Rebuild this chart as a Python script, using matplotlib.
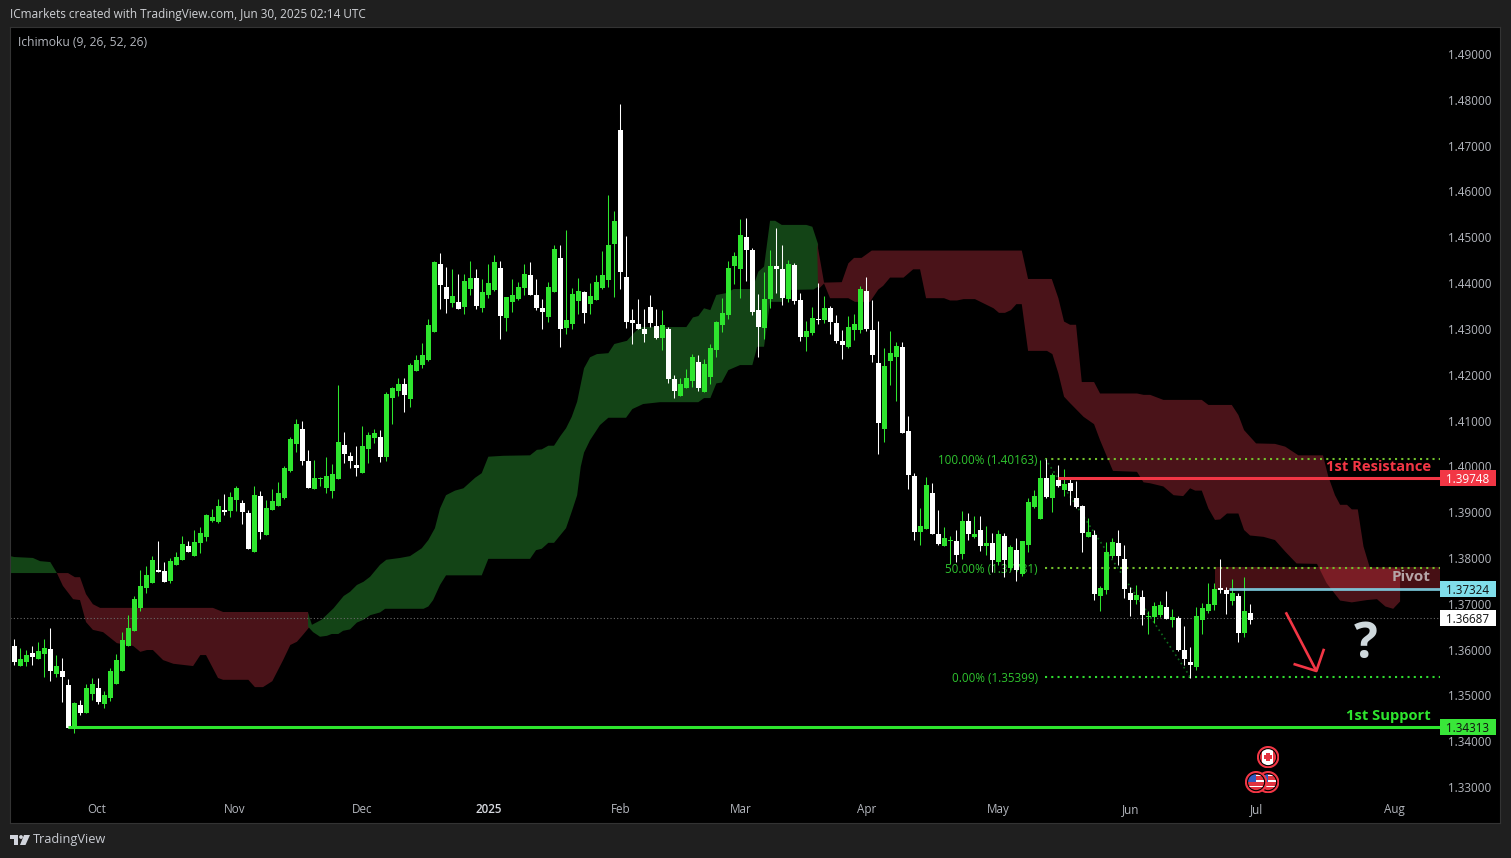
import numpy as np
import matplotlib
matplotlib.use('Agg')
import matplotlib.pyplot as plt
from matplotlib.patches import Rectangle, Circle, Polygon
from matplotlib.transforms import IdentityTransform

plt.rcParams['font.family'] = ['Open Sans', 'DejaVu Sans']

# prices are kept as points above 1.0 (3623 = 1.3623), one value per daily bar
highs = [3623,3603,3599,3607,3616,3623,3647,3588,3581,3535,
         3485,3489,3524,3538,3538,3509,3559,3590,3638,3675,
         3717,3773,3782,3804,3837,3791,3799,3813,3848,3837,
         3861,3867,3896,3907,3928,3939,3944,3957,3926,3904,
         3957,3946,3926,3950,3966,4001,4064,4103,4100,4035,
         4013,3977,4020,4004,4177,4076,4031,4044,4087,4074,
         4081,4079,4162,4173,4192,4192,4225,4242,4269,4321,
         4448,4465,4435,4430,4419,4419,4448,4430,4408,4441,
         4461,4448,4369,4408,4402,4441,4446,4408,4365,4402,
         4483,4483,4515,4389,4411,4382,4400,4417,4470,4592,
         4557,4791,4503,4343,4365,4343,4374,4343,4341,4304,
         4199,4193,4213,4245,4243,4234,4267,4317,4368,4449,
         4468,4540,4542,4477,4376,4425,4473,4521,4483,4451,
         4444,4379,4317,4348,4400,4372,4350,4331,4298,4328,
         4333,4394,4414,4363,4317,4258,4296,4272,4272,4110,
         3986,3909,3977,3964,3905,3868,3848,3861,3903,3898,
         3892,3892,3870,3855,3861,3855,3828,3844,3837,3931,
         3948,4014,4016,3986,4003,3994,3972,3968,3916,3887,
         3861,3739,3835,3844,3861,3828,3737,3741,3730,3684,
         3704,3706,3728,3689,3673,3651,3605,3693,3702,3745,
         3745,3798,3737,3754,3723,3758,3699]
body_tops = [3607,3579,3588,3592,3596,3603,3601,3564,3553,3522,
             3483,3479,3516,3524,3516,3500,3553,3577,3620,3647,
             3710,3738,3762,3795,3773,3771,3793,3802,3830,3826,
             3835,3854,3894,3889,3913,3904,3933,3952,3920,3898,
             3937,3935,3909,3924,3942,3996,4060,4092,4081,4011,
             3974,3975,3978,3983,4052,4046,4022,4002,4044,4068,
             4072,4063,4157,4170,4179,4179,4221,4232,4242,4308,
             4446,4441,4391,4371,4358,4404,4411,4411,4380,4400,
             4446,4432,4369,4374,4391,4419,4417,4374,4345,4391,
             4474,4454,4319,4376,4382,4380,4371,4402,4418,4483,
             4536,4734,4413,4319,4311,4300,4348,4306,4309,4300,
             4191,4180,4193,4239,4228,4223,4258,4315,4335,4433,
             4459,4505,4501,4473,4342,4366,4438,4438,4431,4442,
             4440,4363,4296,4324,4322,4346,4346,4313,4274,4304,
             4311,4387,4383,4298,4226,4219,4248,4263,4261,4077,
             3979,3870,3959,3942,3852,3844,3839,3837,3881,3881,
             3852,3861,3833,3833,3852,3848,3824,3817,3837,3922,
             3935,3975,3975,3981,3970,3962,3964,3931,3913,3857,
             3850,3734,3813,3835,3833,3798,3723,3719,3715,3673,
             3695,3697,3693,3671,3669,3599,3573,3673,3691,3699,
             3732,3734,3730,3723,3717,3684,3680]
body_bottoms = [3572,3564,3572,3583,3579,3590,3553,3546,3540,3428,
                3428,3461,3461,3503,3485,3481,3494,3524,3553,3607,
                3640,3690,3734,3745,3770,3747,3749,3784,3795,3813,
                3804,3832,3845,3880,3878,3900,3902,3926,3900,3819,
                3813,3856,3850,3904,3913,3931,3990,4049,4011,3952,
                3950,3973,3953,3946,3972,4026,4011,3996,3985,4037,
                4061,4020,4020,4149,4164,4155,4146,4208,4221,4232,
                4293,4395,4365,4356,4343,4347,4387,4349,4345,4374,
                4384,4328,4323,4358,4365,4389,4374,4345,4336,4325,
                4380,4299,4301,4310,4360,4334,4354,4363,4389,4407,
                4485,4424,4315,4313,4300,4289,4313,4280,4280,4191,
                4164,4154,4171,4186,4171,4162,4195,4254,4309,4331,
                4438,4431,4473,4337,4304,4302,4366,4431,4368,4366,
                4361,4283,4283,4291,4320,4320,4315,4274,4265,4261,
                4298,4298,4300,4243,4095,4082,4230,4239,4073,3981,
                3857,3857,3863,3852,3830,3826,3837,3806,3809,3852,
                3846,3826,3826,3796,3791,3796,3778,3774,3765,3828,
                3911,3885,3933,3931,3957,3948,3946,3911,3855,3846,
                3721,3717,3730,3804,3804,3732,3708,3708,3675,3671,
                3671,3675,3667,3665,3599,3579,3566,3562,3665,3684,
                3697,3731,3721,3706,3636,3636,3665]
lows = [3566,3564,3564,3566,3579,3540,3531,3540,3485,3428,
        3417,3457,3461,3489,3481,3472,3487,3524,3553,3607,
        3640,3684,3723,3745,3769,3747,3745,3784,3795,3813,
        3804,3811,3837,3878,3876,3894,3889,3902,3874,3819,
        3813,3841,3850,3904,3913,3928,3987,4031,4002,3952,
        3950,3958,3942,3931,3972,4007,3996,3978,3985,4007,
        4050,4009,4011,4092,4153,4118,4129,4208,4214,4229,
        4293,4343,4334,4347,4343,4332,4374,4343,4336,4367,
        4382,4277,4295,4336,4363,4374,4374,4341,4299,4315,
        4380,4260,4288,4299,4332,4312,4332,4363,4387,4391,
        4370,4387,4302,4267,4300,4272,4304,4278,4254,4182,
        4149,4154,4171,4173,4164,4162,4180,4239,4293,4322,
        4398,4368,4405,4331,4239,4278,4346,4379,4352,4359,
        4355,4274,4252,4287,4311,4313,4289,4269,4234,4259,
        4276,4291,4296,4228,4027,4053,4178,4143,4073,3951,
        3839,3828,3863,3852,3828,3826,3787,3791,3798,3839,
        3844,3815,3806,3769,3785,3758,3774,3750,3761,3813,
        3909,3885,3931,3900,3955,3935,3916,3909,3813,3846,
        3708,3684,3721,3800,3785,3713,3673,3699,3654,3634,
        3658,3671,3667,3649,3597,3566,3538,3555,3634,3680,
        3686,3723,3678,3697,3616,3627,3656]
# G = green candle, W = white candle
candle_kind = ('WGGWGGWGWW' 'GWGGWGGGGG' 'GGGGWWGGGW' 'GGGGGWGGWW' 'GWGGGGGGWW'
               'GGGGGWWWGG' 'GWGGGWGGGG' 'GWWGWGGWGG' 'GWGGGGWWWG' 'GWGGGWGGGG'
               'GWWWWWWWGW' 'WGGGWGGGGG' 'GGWWWGGWWG' 'WWGGWGWWWG' 'GGWWWGGGWW'
               'WGGWWGGWGW' 'GWGWGWGWGG' 'GGWGWGWWWG' 'WGGGWWWGWG' 'GGWGWWWGGG'
               'GWWGWGW')

# ichimoku cloud edges as (bar, price points)
green1_top = [(-0.7,3804),(0,3802),(3.1,3800),(4.3,3793),(6,3791),(7.1,3767)]
green1_bottom = [(-0.7,3767),(7.1,3767)]
red1_top = [(7.1,3767),(8.95,3767),(10.1,3758),(10.95,3758),(11.95,3721),(13.1,3699),(14.3,3691),
            (33.1,3691),(34.8,3682),(48.95,3682),(49.3,3651)]
red1_bottom = [(7.1,3767),(8.1,3739),(9.8,3710),(10.95,3708),(11.95,3660),(13.1,3643),(14.8,3638),
               (17.1,3614),(19.8,3608),(21,3595),(22.1,3599),(23.1,3599),(24.8,3577),(26.5,3569),
               (29.8,3564),(31,3588),(31.95,3588),(33.95,3538),(34.8,3534),(39,3534),(40.1,3518),
               (41.45,3518),(43,3531),(44.8,3577),(46,3610),(47.1,3617),(48.1,3632),(49.3,3651)]
green2_top = [(48.95,3680),(49.6,3654),(51.2,3665),(53.2,3690),(54.9,3717),(55.95,3726),(57.1,3741),
              (58.2,3748),(59.3,3759),(60.95,3785),(62,3796),(64.3,3800),(65.95,3804),(67.9,3821),
              (69,3839),(70.1,3865),(70.95,3908),(71.95,3937),(73.45,3947),(74.85,3952),(76.8,3975),
              (77.9,3985),(79,4021),(81.5,4023),(85.95,4024),(87.1,4036),(87.9,4037),(89,4045),
              (89.95,4045),(91,4066),(91.95,4083),(92.9,4108),(93.8,4141),(94.95,4214),(95.95,4238),
              (97.1,4245),(99,4247),(100,4267),(102.1,4274),(103.2,4290),(104.3,4304),(112,4304),
              (113.1,4325),(114,4328),(114.95,4345),(116,4341),(117,4374),(118.6,4378),(119.9,4387),
              (123,4387),(124,4425),(124.95,4436),(125.95,4536),(126.8,4536),(127.9,4527),(132,4527),
              (133,4523),(133.95,4485)]
green2_bottom = [(48.95,3650),(49.8,3638),(50.95,3628),(52.1,3630),(52.9,3634),(54,3634),(54.8,3641),
                 (55.95,3644),(57.1,3659),(58.2,3665),(59.3,3675),(60.95,3681),(61.8,3689),(68.2,3689),
                 (69,3694),(69.8,3708),(70.95,3741),(71.95,3762),(77.9,3762),(79,3798),(85.95,3798),
                 (86.95,3817),(87.9,3820),(89,3833),(89.95,3833),(91.95,3865),(92.9,3901),(93.8,3937),
                 (94.4,3999),(94.95,4030),(95.95,4057),(97.6,4090),(99,4106),(101.95,4106),(103,4125),
                 (104.8,4136),(107.6,4140),(114,4140),(114.95,4149),(116,4149),(117,4181),(117.9,4183),
                 (119,4210),(120.95,4221),(123,4221),(123.8,4261),(124.95,4261),(125.95,4359),
                 (127.9,4359),(129,4385),(133.2,4386),(133.95,4392)]
red2_top = [(133.8,4487),(134.95,4401),(137.9,4402),(139,4443),(139.95,4455),(141.2,4455),(142.9,4471),
            (167.9,4471),(168.95,4409),(172.9,4409),(174,4367),(174.95,4316),(175.95,4309),(176.95,4309),
            (177.9,4184),(179.95,4184),(180.95,4159),(187.1,4159),(188.2,4156),(189.3,4156),(191.5,4145),
            (197.9,4145),(199,4134),(202.9,4134),(204,4112),(204.95,4079),(206.95,4050),(210.1,4049),
            (211.8,4043),(214,4024),(218.1,4024),(219,3977),(220.1,3937),(220.95,3916),(222.1,3916),
            (222.9,3906),(223.9,3906),(224.85,3825),(225.95,3777),(230.95,3777)]
red2_bottom = [(133.95,4386),(134.95,4399),(135.95,4367),(139,4367),(140.1,4359),(142.6,4359),(144,4386),
               (144.8,4394),(145.95,4412),(148.2,4412),(149.8,4430),(150.95,4430),(151.95,4367),
               (154.95,4367),(155.95,4362),(157.1,4362),(158.2,4365),(160.1,4365),(163.2,4345),
               (164.1,4335),(165.1,4335),(166.1,4341),(167,4354),(167.9,4354),(168.95,4252),(172.1,4252),
               (173,4245),(174,4203),(174.95,4152),(175.95,4138),(178.2,4108),(179.95,4092),(180.95,4057),
               (182.1,4021),(183.1,3990),(187.1,3988),(188.2,3965),(189.3,3963),(191.5,3956),(193.2,3937),
               (194.8,3935),(195.95,3952),(196.8,3947),(197.9,3947),(199,3908),(200.1,3883),(200.95,3884),
               (202.1,3897),(204,3897),(204.95,3861),(205.95,3849),(208.2,3846),(210.1,3839),(211.8,3814),
               (213.7,3788),(217.1,3787),(218.7,3745),(220.95,3707),(222.9,3703),(225.4,3708),(227.1,3710),
               (228.5,3694),(229.8,3689),(230.95,3705)]

price_ticks = [1.33,1.34,1.35,1.36,1.37,1.38,1.39,1.40,1.41,1.42,1.43,1.44,1.45,1.46,1.47,1.48,1.49]
month_bars = [13.8,36.8,57.95,79,101,121,142,164,186,207,230]
month_labels = ['Oct','Nov','Dec','2025','Feb','Mar','Apr','May','Jun','Jul','Aug']
fib_levels = [1.40163,1.37781,1.35399]
fib_labels = ['100.00% (1.40163)','50.00% (1.37781)','0.00% (1.35399)']
resistance = 1.39748
pivot = 1.37324
support = 1.34313
last_price = 1.36687

BG = '#1f1f1f'
GREEN = '#2ee52e'
RED = '#f23645'
TEXT = '#b4b7be'
CLOUD_GREEN = '#134416'
CLOUD_RED = '#4a1319'
BAR_END = 237.6   # where the price scale starts


def pts(values):
    return 1 + np.array(values) / 10000


def cloud(ax, top, bottom, color):
    xs = [p[0] for p in top] + [p[0] for p in bottom[::-1]]
    ys = [p[1] for p in top] + [p[1] for p in bottom[::-1]]
    ax.fill(xs, pts(ys), color=color, lw=0, zorder=1)


fig = plt.figure(figsize=(15.11, 8.58), dpi=100, facecolor=BG)
ax = fig.add_axes([10/1511, 1-823/858, 1490/1511, 796/858], facecolor='black')
ax.set_xlim(-0.717, 247.6)
ax.set_ylim(1.32214, 1.4959)
for s in ax.spines.values():
    s.set_color('#333333')
    s.set_linewidth(0.8)

# cloud
cloud(ax, green1_top, green1_bottom, CLOUD_GREEN)
cloud(ax, red1_top, red1_bottom, CLOUD_RED)
cloud(ax, green2_top, green2_bottom, CLOUD_GREEN)
cloud(ax, red2_top, red2_bottom, CLOUD_RED)

# pivot zone
ax.add_patch(Rectangle((200.1, 1.3730), BAR_END-200.1, 0.0050, fc=RED, alpha=0.29, lw=0, zorder=2))

# last price dotted line
ax.plot([-0.717, BAR_END], [last_price, last_price], color='#6a6a6a', lw=0.8, ls=(0, (1, 2)), zorder=2)

# fib levels and the dotted swing line
fib_colors = ['#72c02c', '#72c02c', '#2fdc2f']
for lvl, lab, col in zip(fib_levels, fib_labels, fib_colors):
    ax.plot([171.8, BAR_END], [lvl, lvl], color=col, lw=1.5, ls=(0, (1, 2)), dash_capstyle='butt', zorder=3)
    ax.text(170.6, lvl, lab, color='#2fc42f', fontsize=8.4, ha='right', va='center_baseline', zorder=3)
ax.plot([171.8, 196], [fib_levels[0], fib_levels[2]], color='#0e6a1c', lw=1.2, ls=(0, (1, 2)), zorder=3)

# candles
bars = np.arange(len(highs))
wick_colors = [GREEN if k == 'G' else 'white' for k in candle_kind]
ax.vlines(bars, pts(lows), pts(highs), colors=wick_colors, lw=0.75, zorder=4)
ax.bar(bars, pts(body_tops)-pts(body_bottoms), bottom=pts(body_bottoms), width=0.83,
       color=wick_colors, lw=0, zorder=5)

# levels
ax.plot([174, BAR_END], [resistance, resistance], color=RED, lw=2.2, solid_capstyle='butt', zorder=6)
ax.plot([202.5, BAR_END], [pivot, pivot], color='#7fd3e6', lw=2.0, alpha=0.9, solid_capstyle='butt', zorder=6)
ax.plot([9, BAR_END], [support, support], color=GREEN, lw=2.2, solid_capstyle='butt', zorder=6)

ax.text(236.1, 1.3998, '1st Resistance', color=RED, fontsize=10.6, fontweight='bold', ha='right', va='center', zorder=7)
ax.text(236.1, 1.3758, 'Pivot', color='#b5a5a7', fontsize=11, fontweight='bold', ha='right', va='center', zorder=7)
ax.text(236.1, 1.3456, '1st Support', color=GREEN, fontsize=10.6, fontweight='bold', ha='right', va='center', zorder=7)

# price scale
ax.yaxis.tick_right()
ax.set_yticks(price_ticks)
ax.set_yticklabels(['%.5f' % p for p in price_ticks])
ax.tick_params(axis='y', length=0, pad=-37.5, labelsize=8.4, labelcolor=TEXT)
ax.set_xticks(month_bars)
ax.set_xticklabels(month_labels)
ax.tick_params(axis='x', length=0, pad=-14.4, labelsize=8.4, labelcolor=TEXT)
ax.get_xticklabels()[3].set_color('#d8dae0')
ax.get_xticklabels()[3].set_fontweight('semibold')

for val, fc, tc in [(resistance, RED, 'white'), (pivot, '#80deea', '#111111'),
                    (support, '#39e639', '#111111'), (last_price, 'white', '#111111')]:
    ax.add_patch(Rectangle((BAR_END, val-0.0018), 9.3, 0.0036, fc=fc, lw=0, zorder=8))
    ax.text(BAR_END+4.65, val, '%.5f' % val, color=tc, fontsize=8.4, ha='center', va='center_baseline', zorder=9)

# drawn arrow and question mark
ax.plot([211.9, 217], [1.36814, 1.35532], color=RED, lw=1.9, solid_capstyle='butt', zorder=7)
ax.plot([213.4, 217, 218.2], [1.35678, 1.35532, 1.35990], color=RED, lw=1.9, zorder=7)
ax.text(225.2, 1.3611, '?', color='#cfd8dc', fontsize=36, fontweight='bold', ha='center', va='center', zorder=7)


# event icons on the time scale
def flag_icon(bar, price, kind):
    w, h = 3.6, 0.0047
    sub = ax.inset_axes([bar-w/2, price-h/2, w, h], transform=ax.transData, zorder=10)
    sub.axis('off')
    sub.add_patch(Circle((0.5, 0.5), 0.47, fc='black', ec=RED, lw=1.5, zorder=1))
    if kind == 'CA':
        img = np.ones((12, 12, 3))
        img[:, :3] = img[:, 9:] = (0.9, 0.2, 0.25)
        img[4:8, 5:7] = (0.9, 0.2, 0.25)
        img[5:7, 4:8] = (0.9, 0.2, 0.25)
    else:
        img = np.ones((12, 12, 3))
        img[::3] = (0.88, 0.2, 0.25)
        img[1::3] = (0.88, 0.2, 0.25)
        img[:6, :6] = (0.2, 0.35, 0.75)
    im = sub.imshow(img, extent=(0, 1, 0, 1), aspect='auto', interpolation='nearest', zorder=2)
    im.set_clip_path(Circle((0.5, 0.5), 0.37, transform=sub.transData))
    sub.set_xlim(0, 1)
    sub.set_ylim(0, 1)


flag_icon(208.95, 1.33652, 'CA')
flag_icon(208.95, 1.33106, 'US')
flag_icon(206.95, 1.33106, 'US')

# header and footer
fig.text(10/1511, 1-14.5/858, 'ICmarkets created with TradingView.com, Jun 30, 2025 02:14 UTC',
         color='#d0d2d6', fontsize=8.5, ha='left', va='center')
fig.text(18/1511, 1-42/858, 'Ichimoku (9, 26, 52, 26)', color=TEXT, fontsize=8.7, ha='left', va='center')
fig.text(33/1511, 1-840/858, 'TradingView', color='#c9ccd3', fontsize=9.2, ha='left', va='center')


def py(y):
    return 858 - y


logo = [[(10, py(835)), (18, py(835)), (18, py(845)), (14, py(845)), (14, py(838.5)), (10, py(838.5))],
        [(24, py(835)), (30, py(835)), (25.5, py(845)), (20, py(845))]]
for poly in logo:
    fig.add_artist(Polygon(poly, closed=True, fc='#d1d4dc', lw=0, transform=IdentityTransform()))
fig.add_artist(Circle((21, py(837)), 1.9, fc='#d1d4dc', lw=0, transform=IdentityTransform()))

fig.savefig('out.png', dpi=100, facecolor=BG)
